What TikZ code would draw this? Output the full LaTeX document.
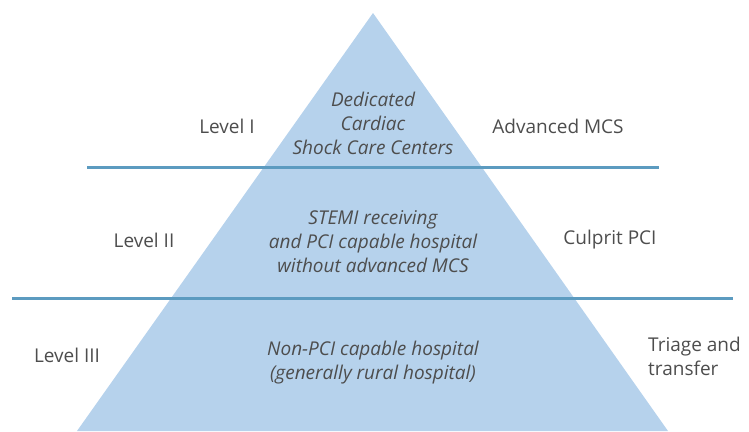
\documentclass[tikz,border=0pt]{standalone}
\usepackage{fontspec}
\setmainfont{Open Sans}
\usepackage{tikz}

\definecolor{pyrfill}{HTML}{B6D2EC}
\definecolor{tierline}{HTML}{5C9BC0}
\definecolor{labelgray}{HTML}{4D4D4D}

\begin{document}
\begin{tikzpicture}[x=1pt,y=-1pt,
  every node/.style={font=\fontsize{19}{24}\selectfont,text=labelgray,inner sep=0pt},
  tier/.style={font=\fontsize{19}{24}\selectfont\itshape,align=center},
  side/.style={align=left}]
  \useasboundingbox (0,0) rectangle (749,431);
  % pyramid corners
  \coordinate (apex) at (373,13);
  \coordinate (bl) at (77,431);
  \coordinate (br) at (668,431);
  \fill[pyrfill] (apex) -- (bl) -- (br) -- cycle;
  % tier separators
  \coordinate (u1) at (87,167);
  \coordinate (u2) at (659,167);
  \coordinate (d1) at (12,298);
  \coordinate (d2) at (733,298);
  \draw[tierline,line width=3pt] (u1) -- (u2);
  \draw[tierline,line width=3pt] (d1) -- (d2);
  % level I
  \node (lvl1) at (227,126) {Level I};
  \node[tier] (cent1) at (373,123) {Dedicated\\Cardiac\\Shock Care Centers};
  \node (mcs) at (558,126) {Advanced MCS};
  % level II
  \node (lvl2) at (144,240) {Level II};
  \node[tier] (cent2) at (373,242) {STEMI receiving\\and PCI capable hospital\\without advanced MCS};
  \node (pci) at (610,240) {Culprit PCI};
  % level III
  \node (lvl3) at (67,355) {Level III};
  \node[tier] (cent3) at (373,363) {Non-PCI capable hospital\\(generally rural hospital)};
  \node[side,anchor=west] (triage) at (648,356) {Triage and\\transfer};
\end{tikzpicture}
\end{document}
